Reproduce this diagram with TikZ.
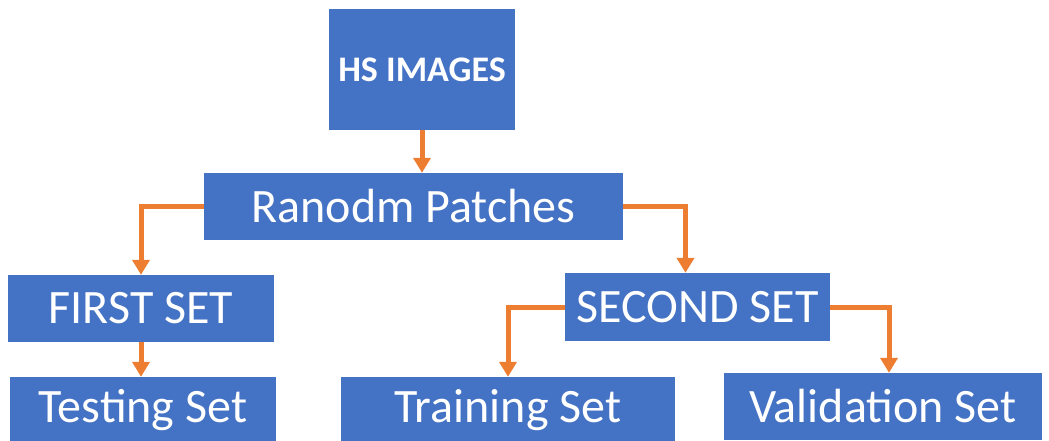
\documentclass[tikz,border=0pt]{standalone}
\usepackage{fontspec}
\setmainfont{Carlito}
\usetikzlibrary{arrows.meta}
\definecolor{boxblue}{HTML}{4472C4}
\definecolor{linkorange}{HTML}{ED7D31}
\tikzset{
  box/.style={fill=boxblue, text=white, inner sep=0pt, align=center, font=\fontsize{48}{54}\selectfont},
  link/.style={draw=linkorange, line width=5pt, -{Triangle[width=17pt,length=15pt]}}
}
\begin{document}
\begin{tikzpicture}[x=1pt, y=-1pt]
  \useasboundingbox (0,0) rectangle (1049,441);
  \clip (0,0) rectangle (1049,441);

  % top of the tree
  \node[box, minimum width=186pt, minimum height=121pt, font=\bfseries\fontsize{36}{40}\selectfont]
    (hs) at (422,69.5) {HS IMAGES};
  \node[box, minimum width=419pt, minimum height=67pt] (rp) at (413.5,206.5) {Ranodm Patches};

  % the two sets
  \node[box, minimum width=266pt, minimum height=67pt] (fs) at (141,308.5) {FIRST SET};
  \node[box, minimum width=265pt, minimum height=68pt] (ss) at (697.5,307) {SECOND SET};

  % leaves
  \node[box, minimum width=266pt, minimum height=66pt] (ts) at (143,410) {Testing Set};
  \node[box, minimum width=334pt, minimum height=66pt] (tr) at (508,410) {Training Set};
  \node[box, minimum width=318pt, minimum height=67pt] (vs) at (883,406.5) {Validation Set};

  % connectors
  \draw[link] (hs.south) -- (hs.south |- rp.north);
  \draw[link] (rp.west) -| (fs.north);
  \draw[link] (rp.east) -| ([xshift=-12pt]ss.north);
  \draw[link] (fs.south) -- (fs.south |- ts.north);
  \draw[link] (ss.west) -| (tr.north);
  \draw[link] (ss.east) -| ([xshift=6pt]vs.north);
\end{tikzpicture}
\end{document}
